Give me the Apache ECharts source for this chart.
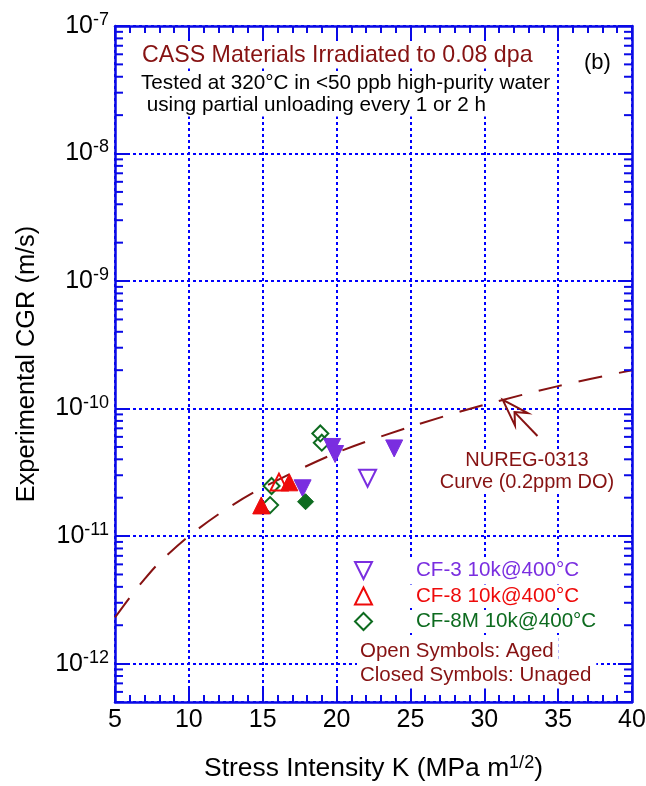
<!DOCTYPE html>
<html><head><meta charset="utf-8">
<script src="https://cdn.jsdelivr.net/npm/echarts@6/dist/echarts.min.js"></script>
<style>html,body{margin:0;padding:0;background:#fff}#c{width:646px;height:786px}</style>
</head><body><div id="c"></div>
<script>
// ---------- data ----------
const xRange = [5, 40];
const xTickStep = 5;
const yRange = [5e-13, 1e-7];

const cf3AgedK = [22.1];
const cf3AgedCGR = [2.84e-11];
const cf3UnagedK = [17.7, 19.7, 19.9, 23.9];
const cf3UnagedCGR = [2.37e-11, 5.0e-11, 4.4e-11, 4.87e-11];

const cf8AgedK = [16.1];
const cf8AgedCGR = [2.65e-11];
const cf8UnagedK = [14.9, 16.8];
const cf8UnagedCGR = [1.74e-11, 2.64e-11];

const cf8mAgedK = [18.9, 19.0, 15.6, 15.5];
const cf8mAgedCGR = [6.38e-11, 5.40e-11, 2.47e-11, 1.75e-11];
const cf8mUnagedK = [17.9];
const cf8mUnagedCGR = [1.86e-11];

const nuregK = [5, 6, 7, 8, 10, 12.5, 15, 20, 25, 30, 35, 40];
const nuregCGR = [2.3e-12, 3.3e-12, 4.6e-12, 6.2e-12, 1.0e-11, 1.62e-11, 2.4e-11, 4.5e-11, 7.2e-11, 1.07e-10, 1.5e-10, 2.0e-10];

const arrowTip = [31.25, 1.17e-10];
const arrowTail = [33.6, 6.1e-11];

const legendNames = ['CF-3 10k@400°C', 'CF-8 10k@400°C', 'CF-8M 10k@400°C'];

// ---------- style ----------
const FONT = 'Liberation Sans, Arial, Helvetica, sans-serif';
const AX = '#0a0ae6';
const GRIDC = '#0000ff';
const DR = '#861212';
const PURPLE = '#7a2ee0';
const RED = '#ee0a0a';
const GREEN = '#0d6b1f';
const TRI_DOWN = 'path://M0,0 L10,0 L5,10 Z';
const TRI_UP = 'path://M5,0 L10,10 L0,10 Z';
const DIAMOND = 'path://M5,0 L10,5 L5,10 L0,5 Z';
const SIZE = { tri: 17, dia: 16 };

function pairs(xs, ys) { return xs.map((x, i) => [x, ys[i]]); }

// log minor tick positions (2..9 x 10^n) inside the axis range
const minorY = [];
for (let n = -13; n <= -8; n++) {
  for (let k = 2; k <= 9; k++) {
    const v = k * Math.pow(10, n);
    if (v > yRange[0] * 0.999 && v < yRange[1]) minorY.push([xRange[0], v]);
  }
}

function openSeries(name, xs, ys, sym, size, color, z) {
  return { type: 'scatter', name, data: pairs(xs, ys), symbol: sym, symbolSize: size, z,
    itemStyle: { color: 'rgba(0,0,0,0)', borderColor: color, borderWidth: 2, opacity: 1 } };
}
function closedSeries(name, xs, ys, sym, size, color, z) {
  return { type: 'scatter', name, data: pairs(xs, ys), symbol: sym, symbolSize: size, z,
    itemStyle: { color: color, borderColor: color, borderWidth: 1, opacity: 1 } };
}

const chart = echarts.init(document.getElementById('c'), null, { renderer: 'canvas' });

const axisCommonX = {
  type: 'value', min: xRange[0], max: xRange[1], interval: xTickStep,
  axisLine: { show: true, lineStyle: { color: AX, width: 2.5 } },
  axisTick: { show: true, inside: true, length: 13, lineStyle: { color: AX, width: 2 } },
  minorTick: { show: true, splitNumber: 5, length: 7, lineStyle: { color: AX, width: 2 } },
};
const axisCommonY = {
  type: 'log', logBase: 10, min: yRange[0], max: yRange[1],
  axisLine: { show: true, lineStyle: { color: AX, width: 2.5 } },
  axisTick: { show: true, inside: true, length: 14, lineStyle: { color: AX, width: 2 } },
};

function boxText(x, y, text, size, color, align, pad) {
  return { type: 'text', x, y, z: 50, style: { text, fontSize: size, fontFamily: FONT, fill: color,
    align: align || 'left', verticalAlign: 'middle', backgroundColor: '#fff', padding: pad || [1, 3, 1, 3] } };
}

const option = {
  backgroundColor: '#fff',
  animation: false,
  textStyle: { fontFamily: FONT },
  grid: { left: 115, right: 14, top: 26, bottom: 84, containLabel: false, outerBoundsMode: 'none' },
  xAxis: [
    Object.assign({}, axisCommonX, {
      position: 'bottom',
      axisLabel: { show: true, color: '#000', fontSize: 25, fontFamily: FONT, margin: 6 },
      splitLine: { show: true, lineStyle: { color: GRIDC, width: 2, type: [3, 3] } },
      name: '{a|Stress Intensity K (MPa m}{s|1/2}{a|)}',
      nameLocation: 'middle', nameGap: 52,
      nameTextStyle: { rich: {
        a: { fontSize: 26.4, fontFamily: FONT, color: '#000' },
        s: { fontSize: 18, fontFamily: FONT, color: '#000', padding: [0, 0, 12, 0] } } }
    }),
    Object.assign({}, axisCommonX, {
      position: 'top', axisLabel: { show: false }, splitLine: { show: false }
    })
  ],
  yAxis: [
    Object.assign({}, axisCommonY, {
      position: 'left',
      axisLabel: { show: true, showMinLabel: false, margin: 6,
        formatter: v => '{b|10}{s|' + Math.round(Math.log10(v)) + '}',
        rich: {
          b: { fontSize: 25, fontFamily: FONT, color: '#000' },
          s: { fontSize: 18, fontFamily: FONT, color: '#000', padding: [0, 0, 12, 0] } } },
      splitLine: { show: true, lineStyle: { color: GRIDC, width: 2, type: [3, 3] } },
      name: 'Experimental CGR (m/s)', nameLocation: 'middle', nameGap: 76,
      nameTextStyle: { fontSize: 25.4, fontFamily: FONT, color: '#000' }
    }),
    Object.assign({}, axisCommonY, {
      position: 'right', axisLabel: { show: false }, splitLine: { show: false }
    })
  ],
  legend: {
    orient: 'vertical', left: 354, top: 559, padding: 0, z: 40,
    itemWidth: 17, itemHeight: 17, itemGap: 2.5, selectedMode: false,
    textStyle: { fontSize: 20.6, fontFamily: FONT, backgroundColor: '#fff', padding: [1, 4, 1, 39] },
    data: [
      { name: legendNames[0], icon: TRI_DOWN, textStyle: { color: PURPLE },
        itemStyle: { color: 'rgba(0,0,0,0)', borderColor: PURPLE, borderWidth: 2 } },
      { name: legendNames[1], icon: TRI_UP, textStyle: { color: RED },
        itemStyle: { color: 'rgba(0,0,0,0)', borderColor: RED, borderWidth: 2 } },
      { name: legendNames[2], icon: DIAMOND, textStyle: { color: GREEN },
        itemStyle: { color: 'rgba(0,0,0,0)', borderColor: GREEN, borderWidth: 2 } }
    ]
  },
  graphic: [
    boxText(139, 56, 'CASS Materials Irradiated to 0.08 dpa', 23.2, DR),
    boxText(138, 83, 'Tested at 320°C in <50 ppb high-purity water', 20.7, '#000'),
    boxText(138, 105, ' using partial unloading every 1 or 2 h', 20.7, '#000'),
    { type: 'text', x: 584, y: 63, z: 50, style: { text: '(b)', fontSize: 22, fontFamily: FONT, fill: '#000', verticalAlign: 'middle' } },
    boxText(527, 460, 'NUREG-0313', 20, DR, 'center'),
    boxText(527, 482, 'Curve (0.2ppm DO)', 20, DR, 'center'),
    boxText(357, 651, 'Open Symbols: Aged', 20.5, DR, 'left', [3, 5, 3, 3]),
    boxText(357, 675, 'Closed Symbols: Unaged', 20.5, DR, 'left', [3, 5, 3, 3])
  ],
  series: [
    { type: 'line', name: 'NUREG-0313', data: pairs(nuregK, nuregCGR), smooth: 0.3, showSymbol: false, z: 2,
      lineStyle: { color: DR, width: 2, type: [24, 17] }, silent: true },
    { type: 'custom', name: 'arrow', silent: true, z: 3, clip: false,
      data: [[arrowTip[0], arrowTip[1], arrowTail[0], arrowTail[1]]],
      encode: { x: 0, y: 1 },
      renderItem: (params, api) => {
        const tip = api.coord([api.value(0), api.value(1)]);
        const tail = api.coord([api.value(2), api.value(3)]);
        const dx = tail[0] - tip[0], dy = tail[1] - tip[1];
        const L = Math.hypot(dx, dy), ux = dx / L, uy = dy / L, px = -uy, py = ux;
        const hl = 27, hw = 9, nl = 17;
        const w1 = [tip[0] + ux * hl + px * hw, tip[1] + uy * hl + py * hw];
        const w2 = [tip[0] + ux * hl - px * hw, tip[1] + uy * hl - py * hw];
        const nt = [tip[0] + ux * nl, tip[1] + uy * nl];
        return { type: 'group', children: [
          { type: 'polygon', shape: { points: [tip, w1, nt, w2] }, style: { fill: 'none', stroke: DR, lineWidth: 2 } },
          { type: 'line', shape: { x1: nt[0], y1: nt[1], x2: tail[0], y2: tail[1] }, style: { stroke: DR, lineWidth: 2 } }
        ] };
      } },
    { type: 'custom', name: 'logMinorTicks', silent: true, z: 4, clip: false,
      data: minorY, encode: { x: 0, y: 1 },
      renderItem: (params, api) => {
        const l = api.coord([xRange[0], api.value(1)]);
        const r = api.coord([xRange[1], api.value(1)]);
        return { type: 'group', children: [
          { type: 'line', shape: { x1: l[0], y1: l[1], x2: l[0] + 8, y2: l[1] }, style: { stroke: AX, lineWidth: 2 } },
          { type: 'line', shape: { x1: r[0], y1: r[1], x2: r[0] - 8, y2: r[1] }, style: { stroke: AX, lineWidth: 2 } }
        ] };
      } },
    openSeries(legendNames[2], cf8mAgedK, cf8mAgedCGR, DIAMOND, SIZE.dia, GREEN, 5),
    closedSeries('CF-3 unaged', cf3UnagedK, cf3UnagedCGR, TRI_DOWN, SIZE.tri, PURPLE, 6),
    openSeries(legendNames[0], cf3AgedK, cf3AgedCGR, TRI_DOWN, SIZE.tri, PURPLE, 6),
    openSeries(legendNames[1], cf8AgedK, cf8AgedCGR, TRI_UP, SIZE.tri, RED, 7),
    closedSeries('CF-8 unaged', cf8UnagedK, cf8UnagedCGR, TRI_UP, SIZE.tri, RED, 7),
    closedSeries('CF-8M unaged', cf8mUnagedK, cf8mUnagedCGR, DIAMOND, SIZE.dia, GREEN, 8)
  ]
};
chart.setOption(option);
</script>
</body></html>
